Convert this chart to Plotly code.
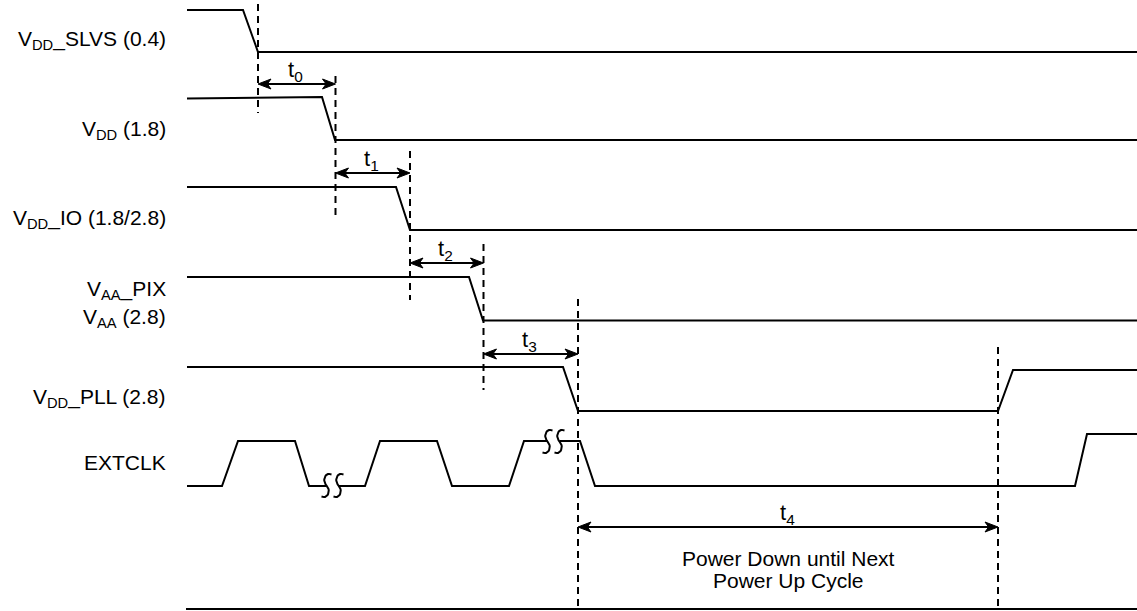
import plotly.graph_objects as go

W, H = 1137, 611
FONT = "Liberation Sans, Arial, sans-serif"
FS = 21

# ---- waveform data (time -> x, level -> y in diagram units) ----
slvs_t = [187, 243, 258, 1137]
slvs_v = [10, 10, 52, 52]

vdd_t = [187, 322, 335, 1137]
vdd_v = [98.5, 97, 140, 140]

vddio_t = [187, 396, 410, 1137]
vddio_v = [187, 187, 230, 230]

vaa_t = [187, 469, 483, 1137]
vaa_v = [277, 277, 320.5, 320.5]

pll_t = [187, 563, 578, 998, 1013, 1137]
pll_v = [367, 367, 411, 411, 370, 370]

clk_t = [187, 222, 238, 295, 309, 365, 380, 437, 452, 509, 524, 580, 595, 1075, 1087, 1137]
clk_v = [486, 486, 441, 441, 486, 486, 441, 441, 486, 486, 441, 441, 486, 486, 434, 434]

base_t = [186, 1137]
base_v = [609, 609]

# breaks in the EXTCLK line (pairs of curve centres)
breaks = [((326.5, 485.5), (338.5, 485.5)), ((547.5, 441.5), (559.5, 441.5))]

# dashed timing markers: x, y_top, y_bottom
markers_x = [258, 335.5, 410, 483.5, 578, 998]
markers_top = [4, 76, 151, 244, 299, 347]
markers_bot = [113, 215, 300, 390, 611, 611]

# timing intervals: start, end, y, label
int_start = [258, 335.5, 410, 483.5, 578]
int_end = [335.5, 410, 483.5, 578, 998]
int_y = [84, 173, 263, 354, 527]
int_lbl = ["t<sub>0</sub>", "t<sub>1</sub>", "t<sub>2</sub>", "t<sub>3</sub>", "t<sub>4</sub>"]

# signal labels
sig_lbl = ["V<sub>DD</sub>_SLVS (0.4)", "V<sub>DD</sub> (1.8)", "V<sub>DD</sub>_IO (1.8/2.8)",
           "V<sub>AA</sub>_PIX", "V<sub>AA</sub> (2.8)", "V<sub>DD</sub>_PLL (2.8)", "EXTCLK"]
sig_lbl_y = [40, 130, 219, 290, 318, 398, 462]

note_lines = ["Power Down until Next", "Power Up Cycle"]
note_y = [558, 580]
note_x = 788

fig = go.Figure()
line = dict(color="black", width=2)

for t, v in [(slvs_t, slvs_v), (vdd_t, vdd_v), (vddio_t, vddio_v), (vaa_t, vaa_v),
             (pll_t, pll_v), (clk_t, clk_v), (base_t, base_v)]:
    fig.add_trace(go.Scatter(x=t, y=v, mode="lines", line=line, hoverinfo="skip"))


def bez(p0, p1, p2, p3, n=14):
    xs, ys = [], []
    for i in range(n + 1):
        u = i / n
        a, b, c, d = (1 - u) ** 3, 3 * (1 - u) ** 2 * u, 3 * (1 - u) * u ** 2, u ** 3
        xs.append(a * p0[0] + b * p1[0] + c * p2[0] + d * p3[0])
        ys.append(a * p0[1] + b * p1[1] + c * p2[1] + d * p3[1])
    return xs, ys


def s_curve(cx, cy):
    x1, y1 = bez((cx + 5, cy - 11), (cx - 1, cy - 14), (cx - 5, cy - 5), (cx, cy))
    x2, y2 = bez((cx, cy), (cx + 5, cy + 5), (cx + 1, cy + 14), (cx - 5, cy + 11))
    return x1 + x2[1:], y1 + y2[1:]


for (c1, c2) in breaks:
    fig.add_trace(go.Scatter(x=[c1[0], c2[0]], y=[c1[1], c2[1]], mode="lines",
                             line=dict(color="white", width=5), hoverinfo="skip"))
    for c in (c1, c2):
        xs, ys = s_curve(*c)
        fig.add_trace(go.Scatter(x=xs, y=ys, mode="lines", line=line, hoverinfo="skip"))

# dashed markers
for x, y0, y1 in zip(markers_x, markers_top, markers_bot):
    fig.add_trace(go.Scatter(x=[x, x], y=[y0, y1], mode="lines",
                             line=dict(color="black", width=2, dash="7px,5px"), hoverinfo="skip"))

# interval arrows
AL, AW = 13, 5
for s, e, y, lbl in zip(int_start, int_end, int_y, int_lbl):
    fig.add_trace(go.Scatter(x=[s + 6, e - 6], y=[y, y], mode="lines", line=line, hoverinfo="skip"))
    for tip, d in ((s, 1), (e, -1)):
        fig.add_trace(go.Scatter(
            x=[tip, tip + d * AL, tip + d * AL * 0.72, tip + d * AL, tip],
            y=[y, y - AW, y, y + AW, y], mode="lines", fill="toself",
            fillcolor="black", line=dict(color="black", width=1), hoverinfo="skip"))
    fig.add_annotation(x=(s + e) / 2 - 1, y=y + 3, text=lbl, showarrow=False,
                       xanchor="center", yanchor="bottom",
                       font=dict(family=FONT, size=FS + 1, color="black"))

for lbl, y in zip(sig_lbl, sig_lbl_y):
    fig.add_annotation(x=168, y=y, text=lbl, showarrow=False, xanchor="right", yanchor="middle",
                       font=dict(family=FONT, size=FS, color="black"))

for lbl, y in zip(note_lines, note_y):
    fig.add_annotation(x=note_x, y=y, text=lbl, showarrow=False, xanchor="center", yanchor="middle",
                       font=dict(family=FONT, size=FS, color="black"))

fig.update_layout(
    width=W, height=H, margin=dict(l=0, r=0, t=0, b=0),
    paper_bgcolor="white", plot_bgcolor="white", showlegend=False,
    xaxis=dict(range=[0, W], visible=False, fixedrange=True),
    yaxis=dict(range=[H, 0], visible=False, fixedrange=True),
)
fig.write_html("out.html", config={"displayModeBar": False},
               post_script="document.body.style.margin='0';document.body.style.overflow='hidden';")
